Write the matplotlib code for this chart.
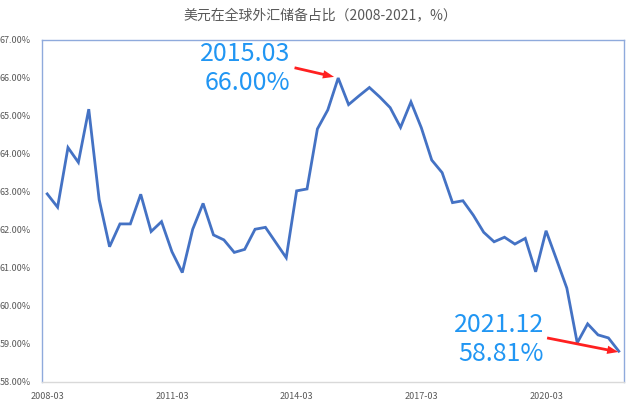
import matplotlib
matplotlib.use('Agg')
import matplotlib.pyplot as plt

plt.rcParams['font.family'] = ['Noto Sans CJK SC', 'DejaVu Sans']

# quarterly share of USD in global FX reserves, 2008Q1 .. 2021Q4 (%)
years = list(range(2008, 2022))
months = ['03', '06', '09', '12']
quarters = [f"{y}-{m}" for y in years for m in months]
usd_share = [
    62.95, 62.60, 64.17, 63.78, 65.18, 62.80, 61.56, 62.16,
    62.16, 62.94, 61.96, 62.22, 61.43, 60.88, 62.02, 62.70,
    61.87, 61.74, 61.41, 61.49, 62.02, 62.07, 61.67, 61.27,
    63.03, 63.08, 64.66, 65.16, 66.00, 65.30, 65.53, 65.75,
    65.50, 65.22, 64.70, 65.37, 64.69, 63.84, 63.51, 62.72,
    62.77, 62.39, 61.94, 61.69, 61.81, 61.63, 61.78, 60.90,
    61.98, 61.23, 60.47, 59.03, 59.53, 59.24, 59.16, 58.81,
]
tick_labels = ['2008-03', '2011-03', '2014-03', '2017-03', '2020-03']
yticks = [58, 59, 60, 61, 62, 63, 64, 65, 66, 67]

LINE = '#4472c4'
GRAY = '#595959'
NOTE = '#2196f3'
ARROW = 'simple,head_length=0.8,head_width=0.6,tail_width=0.2'

fig = plt.figure(figsize=(6.4, 4.04), dpi=100)
ax = fig.add_axes([42 / 640, 1 - 382 / 404, 582 / 640, 342 / 404])

x = list(range(len(usd_share)))
ax.plot(x, usd_share, color=LINE, linewidth=2.0, solid_joinstyle='miter')

ax.set_xlim(-0.5, len(usd_share) - 0.5)
ax.set_ylim(58, 67)
ax.set_xticks([quarters.index(t) for t in tick_labels])
ax.set_xticklabels(tick_labels)
ax.set_yticks(yticks)
ax.set_yticklabels([f"{v:.2f}%" for v in yticks])
ax.tick_params(axis='both', length=0, labelsize=6.5, labelcolor=GRAY)
ax.tick_params(axis='x', pad=7)
ax.tick_params(axis='y', pad=8)

for side in ['left', 'top', 'right']:
    ax.spines[side].set_color('#8faadc')
    ax.spines[side].set_linewidth(1.0)
ax.spines['bottom'].set_color('#d9d9d9')
ax.spines['bottom'].set_linewidth(1.0)

fig.text(0.5, 1 - 15 / 404, '美元在全球外汇储备占比（2008-2021，%）',
         ha='center', va='center', fontsize=10, color=GRAY)

# annotations
i_peak = quarters.index('2015-03')
i_last = quarters.index('2021-12')
ax.text(23.4, 66.26, f"2015.03\n{usd_share[i_peak]:.2f}%", ha='right', va='center',
        fontsize=18, color=NOTE, linespacing=1.15)
ax.annotate('', xy=(i_peak - 0.4, usd_share[i_peak] + 0.03), xytext=(23.8, 66.27),
            arrowprops=dict(arrowstyle=ARROW, color='#ff2020', lw=0, shrinkA=0, shrinkB=0))
ax.text(47.8, 59.13, f"2021.12\n{usd_share[i_last]:.2f}%", ha='right', va='center',
        fontsize=18, color=NOTE, linespacing=1.15)
ax.annotate('', xy=(i_last - 0.05, usd_share[i_last] - 0.02), xytext=(48.1, 59.16),
            arrowprops=dict(arrowstyle=ARROW, color='#ff2020', lw=0, shrinkA=0, shrinkB=0))

plt.savefig('out.png', dpi=100)
plt.close()
